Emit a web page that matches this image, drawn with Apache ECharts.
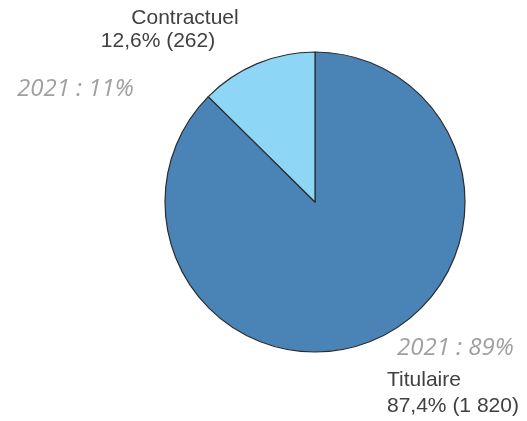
<!DOCTYPE html>
<html>
<head>
<meta charset="utf-8">
<script src="https://cdn.jsdelivr.net/npm/echarts@6/dist/echarts.min.js"></script>
<style>
  html, body { margin: 0; padding: 0; background: #fff; }
  #chart { width: 527px; height: 421px; }
</style>
</head>
<body>
<div id="chart"></div>
<script>
const categories = ['Titulaire', 'Contractuel'];
const shares = [87.4, 12.6];
const counts = ['1 820', '262'];
const shares2021 = [89, 11];
const colors = ['#4A84B7', '#8ED6F6'];

const chart = echarts.init(document.getElementById('chart'));

const labelFont = { fontFamily: 'Liberation Sans, Arial, sans-serif', fontSize: 21, fill: '#404040' };
const oldFont = { fontFamily: 'Open Sans, sans-serif', fontSize: 24, fontStyle: 'italic', fill: '#A0A0A0' };
const fmt = v => String(v).replace('.', ',');

chart.setOption({
  animation: false,
  series: [{
    type: 'pie',
    center: [315, 202],
    radius: 150,
    startAngle: 90,
    clockwise: true,
    label: { show: false },
    labelLine: { show: false },
    itemStyle: { borderColor: '#2b2b2b', borderWidth: 1.2 },
    emphasis: { disabled: true },
    data: categories.map((c, i) => ({ name: c, value: shares[i], itemStyle: { color: colors[i] } }))
  }],
  graphic: [
    // Contractuel
    { type: 'text', x: 185, y: 18, style: Object.assign({ text: categories[1], align: 'center', verticalAlign: 'middle' }, labelFont) },
    { type: 'text', x: 158, y: 41, style: Object.assign({ text: fmt(shares[1]) + '% (' + counts[1] + ')', align: 'center', verticalAlign: 'middle' }, labelFont) },
    { type: 'text', x: 17, y: 89, style: Object.assign({ text: '2021 : ' + shares2021[1] + '%', align: 'left', verticalAlign: 'middle' }, oldFont) },
    // Titulaire
    { type: 'text', x: 397, y: 348, style: Object.assign({ text: '2021 : ' + shares2021[0] + '%', align: 'left', verticalAlign: 'middle' }, oldFont) },
    { type: 'text', x: 387, y: 380, style: Object.assign({ text: categories[0], align: 'left', verticalAlign: 'middle' }, labelFont) },
    { type: 'text', x: 387, y: 406, style: Object.assign({ text: fmt(shares[0]) + '% (' + counts[0] + ')', align: 'left', verticalAlign: 'middle' }, labelFont) }
  ]
});
</script>
</body>
</html>
